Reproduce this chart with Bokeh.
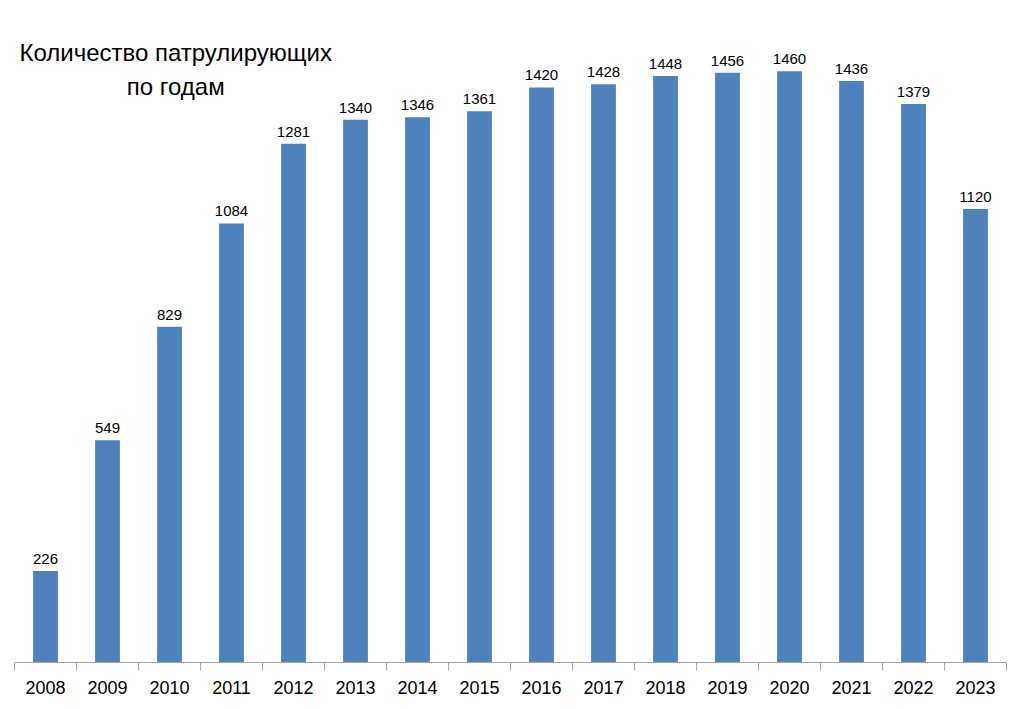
from bokeh.plotting import figure
from bokeh.models import Range1d, FixedTicker, ColumnDataSource, Label
from bokeh.core.properties import value
from bokeh.embed import file_html
from bokeh.resources import INLINE

years = ["2008", "2009", "2010", "2011", "2012", "2013", "2014", "2015",
         "2016", "2017", "2018", "2019", "2020", "2021", "2022", "2023"]
counts = [226, 549, 829, 1084, 1281, 1340, 1346, 1361,
          1420, 1428, 1448, 1456, 1460, 1436, 1379, 1120]
title_lines = ["Количество патрулирующих", "по годам"]

FONT = "Liberation Sans"
n = len(years)
centers = [i + 0.5 for i in range(n)]

p = figure(width=1015, height=701, output_backend="svg", toolbar_location=None,
           x_range=Range1d(0, n), y_range=Range1d(0, 1600),
           min_border_left=14, min_border_right=9, min_border_top=14,
           min_border_bottom=39, y_axis_type=None)
p.outline_line_color = None
p.xgrid.visible = False
p.ygrid.visible = False
p.background_fill_color = "white"
p.border_fill_color = "white"

src = ColumnDataSource(dict(x=centers, top=counts, lab=[str(c) for c in counts]))
p.vbar(x="x", top="top", bottom=0, width=0.4, source=src,
       fill_color="#4F81BD", line_color=None)
p.text(x="x", y="top", text="lab", source=src, text_align="center",
       text_baseline="bottom", y_offset=-7, text_font=value(FONT),
       text_font_size="15px", text_color="#000000")

ax = p.xaxis[0]
ax.ticker = FixedTicker(ticks=centers, minor_ticks=list(range(n + 1)))
ax.major_label_overrides = {c: y for c, y in zip(centers, years)}
ax.major_tick_out = 0
ax.major_tick_in = 0
ax.minor_tick_out = 8
ax.minor_tick_in = 0
ax.axis_line_color = "#A6A6A6"
ax.minor_tick_line_color = "#A6A6A6"
ax.major_label_text_font = FONT
ax.major_label_text_font_size = "18px"
ax.major_label_text_color = "#000000"
ax.major_label_standoff = 10

p.add_layout(Label(x=2.6, y=1506, text=title_lines[0], text_align="center",
                   text_baseline="middle", text_font=FONT, text_font_size="24px",
                   text_color="#000000"))
p.add_layout(Label(x=2.6, y=1422, text=title_lines[1], text_align="center",
                   text_baseline="middle", text_font=FONT, text_font_size="24px",
                   text_color="#000000"))

open("out.html", "w").write(file_html(p, INLINE))
